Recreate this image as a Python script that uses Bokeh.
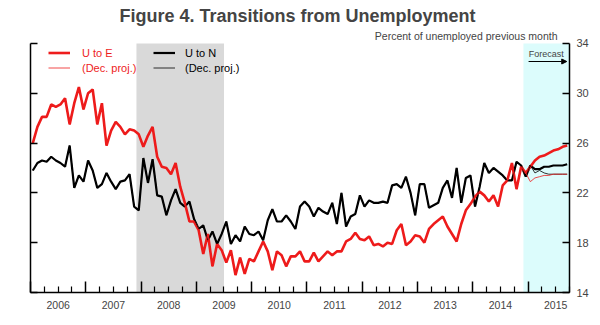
from bokeh.plotting import figure
from bokeh.models import (Range1d, LinearAxis, FixedTicker, BoxAnnotation, Legend,
                          LegendItem, Label, Arrow, NormalHead, CustomJSTickFormatter,
                          ColumnDataSource)
from bokeh.embed import file_html
from bokeh.resources import INLINE

# ---------------- data (monthly, Jan 2006 .. Sep 2015) ----------------
start_year = 2006
years = list(range(2006, 2016))
y_ticks = [14, 18, 22, 26, 30, 34]

# U to E, current (actual through Nov 2014, then forecast)
u_to_e = [26.0, 27.3, 28.1, 28.1, 29.1, 28.9, 29.1, 29.6, 27.5, 29.2, 30.5, 28.7,
          30.0, 30.3, 27.5, 29.2, 25.8, 27.0, 27.7, 27.3, 26.7, 27.1, 27.0, 26.7,
          25.7, 26.6, 27.3, 24.9, 24.1, 24.0, 23.5, 24.4, 22.5, 21.2, 19.7, 19.7,
          19.0, 17.1, 18.7, 16.1, 17.9, 17.4, 16.4, 17.4, 15.4, 16.8, 15.5, 16.7,
          16.5, 17.3, 18.1, 17.3, 15.8, 17.3, 17.0, 16.1, 16.9, 16.9, 17.3, 16.5,
          16.5, 17.2, 16.5, 16.9, 17.3, 17.0, 17.3, 17.3, 18.1, 18.3, 18.8, 18.3,
          18.2, 18.5, 17.8, 17.9, 17.7, 18.0, 17.9, 19.0, 19.5, 17.8, 18.1, 18.6,
          18.5, 18.0, 19.1, 19.5, 19.8, 20.1, 19.3, 18.7, 18.1, 19.5, 20.6, 21.1,
          21.7, 22.1, 21.8, 21.3, 21.8, 20.9, 22.6, 23.0, 24.4, 22.3, 24.1,
          23.6, 24.1, 24.6, 24.9, 25.0, 25.2, 25.4, 25.5, 25.7, 25.8]
u_to_e_dec_forecast = [23.6, 22.9, 23.2, 23.3, 23.4, 23.4, 23.5, 23.5, 23.5, 23.5]

# U to N, current
u_to_n = [23.8, 24.4, 24.6, 24.5, 24.9, 24.6, 24.4, 24.1, 25.8, 22.4, 23.4, 22.9,
          24.6, 23.8, 22.4, 22.7, 23.6, 22.9, 22.3, 22.9, 23.0, 23.5, 20.9, 20.6,
          24.8, 22.8, 24.7, 21.8, 21.7, 20.2, 21.4, 22.3, 21.2, 20.9, 21.3, 19.9,
          19.1, 19.4, 18.2, 18.9, 17.9, 18.7, 19.7, 17.9, 18.6, 18.1, 19.3, 18.7,
          18.6, 18.9, 18.2, 19.8, 20.7, 19.7, 19.7, 20.2, 19.7, 19.1, 20.9, 21.3,
          20.9, 20.1, 20.8, 20.5, 20.3, 21.2, 19.5, 22.0, 19.3, 20.1, 20.3, 21.8,
          20.9, 21.4, 21.2, 21.2, 21.3, 21.2, 22.6, 22.7, 22.4, 23.3, 22.0, 20.2,
          22.7, 22.7, 20.8, 21.0, 21.2, 22.4, 23.0, 21.6, 24.0, 21.2, 23.2, 23.4,
          20.9, 22.5, 24.4, 23.6, 24.0, 23.7, 23.4, 23.0, 23.0, 24.5, 24.2,
          23.3, 24.2, 23.9, 23.9, 24.1, 24.1, 24.2, 24.2, 24.2, 24.3]
u_to_n_dec_forecast = [23.3, 24.2, 23.6, 23.8, 23.6, 23.5, 23.5, 23.5, 23.5, 23.5]

n_hist = 107  # Jan 2006 .. Nov 2014 shared history
u_to_e_dec = u_to_e[:n_hist] + u_to_e_dec_forecast
u_to_n_dec = u_to_n[:n_hist] + u_to_n_dec_forecast

recession_start, recession_end = 2007 + 11 / 12, 2009.5   # Dec 2007 - Jun 2009
forecast_start = 2014 + 11 / 12                            # Dec 2014

x = [start_year + (i + 0.5) / 12 for i in range(len(u_to_e))]

RED = "#ee1c1c"
FONT = "Liberation Sans"
Y_LO, Y_HI = y_ticks[0], y_ticks[-1]

src = ColumnDataSource(dict(x=x, ue=u_to_e, ued=u_to_e_dec, un=u_to_n, und=u_to_n_dec))

# frame extends a little above 34 so that the top tick label and the unit text fit
p = figure(width=600, height=325, output_backend="svg", toolbar_location=None,
           x_range=Range1d(2006, 2015.75), y_range=Range1d(Y_LO, 35.2),
           x_axis_type=None, y_axis_type=None,
           min_border_left=30, min_border_right=31, min_border_top=28, min_border_bottom=33)
p.outline_line_color = None
p.background_fill_color = "white"
p.border_fill_color = "white"

p.title.text = "Figure 4.  Transitions from Unemployment"
p.title.align = "center"
p.title.text_font = FONT
p.title.text_font_style = "bold"
p.title.text_font_size = "18px"
p.title.standoff = 6

p.add_layout(Label(x=2015.75, y=34.56, x_offset=-12, text="Percent of unemployed previous month",
                   text_font=FONT, text_font_size="10.5px", text_align="right",
                   text_baseline="middle"))

# shaded regions
p.add_layout(BoxAnnotation(left=recession_start, right=recession_end, top=Y_HI,
                           fill_color="#d9d9d9", fill_alpha=1, line_color=None, level="underlay"))
p.add_layout(BoxAnnotation(left=forecast_start, top=Y_HI, fill_color="#dcfcfc",
                           fill_alpha=1, line_color=None, level="underlay"))

# lines
r_un = p.line("x", "un", source=src, line_color="black", line_width=2.2)
r_ue = p.line("x", "ue", source=src, line_color=RED, line_width=2.6)
r_und = p.line("x", "und", source=src, line_color="black", line_width=0.8)
r_ued = p.line("x", "ued", source=src, line_color=RED, line_width=0.8)

blank = CustomJSTickFormatter(code="return ''")

# axes
tick_axis = LinearAxis(ticker=FixedTicker(ticks=years + [2016],
                                          minor_ticks=[y + q / 4 for y in years for q in (1, 2, 3)]),
                       formatter=blank,
                       major_tick_in=11, major_tick_out=0, minor_tick_in=6, minor_tick_out=0,
                       major_label_standoff=0,
                       axis_line_width=1.5, major_tick_line_width=1.5, minor_tick_line_width=1.2)
p.add_layout(tick_axis, "below")
label_axis = LinearAxis(ticker=FixedTicker(ticks=[y + 0.5 for y in years], minor_ticks=[]),
                        formatter=CustomJSTickFormatter(code="return String(Math.floor(tick))"),
                        axis_line_color=None, major_tick_line_color=None, minor_tick_line_color=None,
                        major_tick_in=0, major_tick_out=0,
                        major_label_text_font=FONT, major_label_text_font_size="10.5px",
                        major_label_standoff=8)
p.add_layout(label_axis, "below")

left_axis = LinearAxis(ticker=FixedTicker(ticks=y_ticks, minor_ticks=[]), formatter=blank,
                       bounds=(Y_LO, Y_HI),
                       major_tick_in=7, major_tick_out=0,
                       major_label_standoff=0, axis_line_width=1.5, major_tick_line_width=1.5)
p.add_layout(left_axis, "left")
right_axis = LinearAxis(ticker=FixedTicker(ticks=y_ticks, minor_ticks=[]),
                        bounds=(Y_LO, Y_HI),
                        major_tick_in=7, major_tick_out=0, major_label_text_font=FONT,
                        major_label_text_font_size="11px", major_label_standoff=7,
                        axis_line_width=1.5, major_tick_line_width=1.5)
p.add_layout(right_axis, "right")

# legends
common = dict(glyph_width=22, glyph_height=15, label_height=15, spacing=0, padding=0, margin=0,
              border_line_color=None, background_fill_alpha=0, label_text_font=FONT,
              label_text_font_size="11px")
leg1 = Legend(items=[LegendItem(label="U to E", renderers=[r_ue]),
                     LegendItem(label="(Dec. proj.)", renderers=[r_ued])],
              location=(18, 217), label_text_color=RED, label_standoff=12, **common)
leg2 = Legend(items=[LegendItem(label="U to N", renderers=[r_un]),
                     LegendItem(label="(Dec. proj.)", renderers=[r_und])],
              location=(123, 217), label_text_color="black", label_standoff=10, **common)
p.add_layout(leg1)
p.add_layout(leg2)

# forecast marker
p.add_layout(Label(x=2015.33, y=33.17, text="Forecast", text_font=FONT, text_font_size="9px",
                   text_align="center", text_baseline="middle"))
p.add_layout(Arrow(end=NormalHead(size=5, fill_color="black", line_color="black"),
                   x_start=2015.01, y_start=32.55, x_end=2015.70, y_end=32.55,
                   line_color="black", line_width=1))

open("out.html", "w").write(file_html(p, INLINE))
